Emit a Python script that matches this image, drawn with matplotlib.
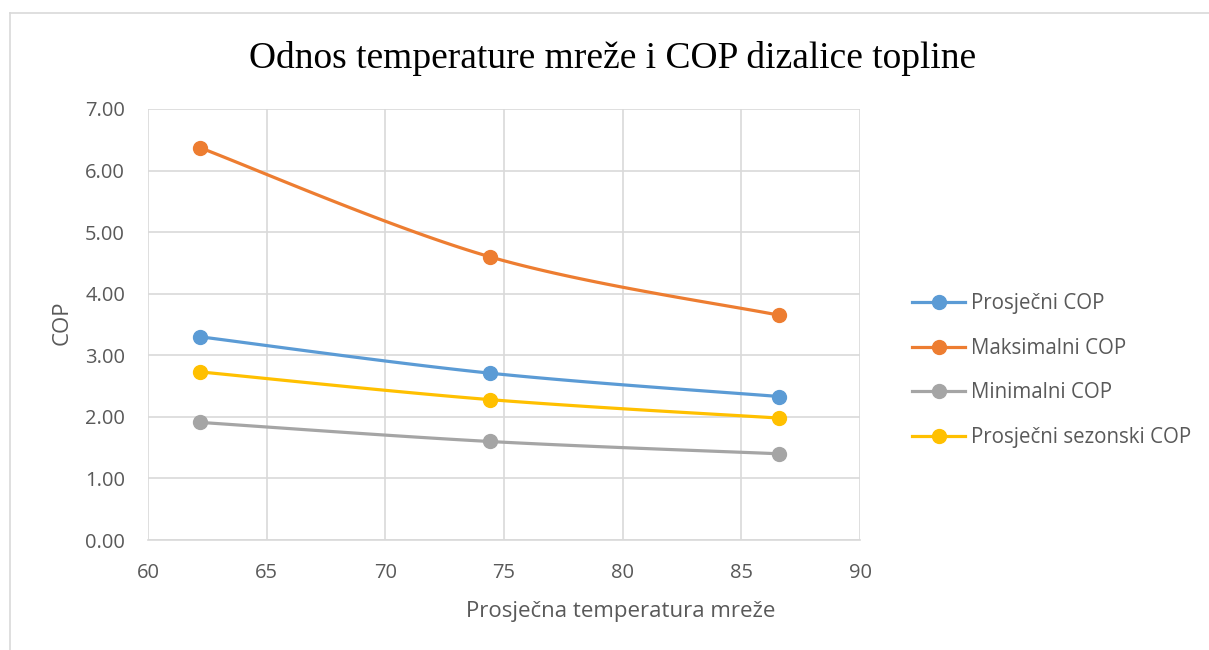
import numpy as np
import matplotlib.pyplot as plt
from matplotlib.lines import Line2D

# data
temps = [62.2, 74.4, 86.6]
cop_avg = [3.30, 2.71, 2.33]
cop_max = [6.37, 4.60, 3.65]
cop_min = [1.91, 1.60, 1.40]
cop_season = [2.73, 2.28, 1.98]

series = [
    ("Prosječni COP", cop_avg, "#5B9BD5"),
    ("Maksimalni COP", cop_max, "#ED7D31"),
    ("Minimalni COP", cop_min, "#A5A5A5"),
    ("Prosječni sezonski COP", cop_season, "#FFC000"),
]


# Excel-like smoothing: cubic bezier with catmull-rom tangents
def smooth(x, y, n=40):
    p = np.column_stack((x, y)).astype(float)
    p = np.vstack((p[0], p, p[-1]))
    out = []
    for i in range(1, len(p) - 2):
        p0, p1, p2, p3 = p[i - 1], p[i], p[i + 1], p[i + 2]
        c1 = p1 + (p2 - p0) / 6
        c2 = p2 - (p3 - p1) / 6
        t = np.linspace(0, 1, n)[:, None]
        seg = (1 - t) ** 3 * p1 + 3 * (1 - t) ** 2 * t * c1 + 3 * (1 - t) * t ** 2 * c2 + t ** 3 * p2
        out.append(seg if i == 1 else seg[1:])
    out = np.vstack(out)
    return out[:, 0], out[:, 1]


plt.rcParams['font.family'] = ['Open Sans', 'DejaVu Sans']
txt = "#595959"
grid = "#D9D9D9"

fig = plt.figure(figsize=(12.09, 6.5), dpi=100)
ax = fig.add_axes([148 / 1209, 1 - 540 / 650, 712 / 1209, 431 / 650])

for name, vals, col in series:
    sx, sy = smooth(temps, vals)
    ax.plot(sx, sy, color=col, lw=2.3, solid_capstyle='round', zorder=3)
    ax.plot(temps, vals, 'o', color=col, ms=10, zorder=4)

ax.set_xlim(60, 90)
ax.set_ylim(0, 7)
ax.set_xticks(np.arange(60, 91, 5))
ax.set_yticks(np.arange(0, 8, 1))
ax.set_yticklabels([f"{v:.2f}" for v in np.arange(0, 8, 1)])
ax.grid(True, color=grid, lw=1.2, zorder=0)
for s in ['top', 'right', 'left']:
    ax.spines[s].set_visible(False)
ax.spines['bottom'].set_color(grid)
ax.spines['bottom'].set_linewidth(1.2)
ax.tick_params(length=0, labelsize=14.5, labelcolor=txt)
ax.tick_params(axis='x', pad=16.5)
ax.tick_params(axis='y', pad=16.5)

fig.text(613 / 1209, 1 - 59 / 650, "Odnos temperature mreže i COP dizalice topline",
         ha='center', va='center', fontsize=27, family='Liberation Serif', color='black')
fig.text(621 / 1209, 1 - 612 / 650, "Prosječna temperatura mreže",
         ha='center', va='center', fontsize=16, color=txt)
fig.text(62 / 1209, 1 - 323 / 650, "COP", ha='center', va='center',
         rotation=90, fontsize=16, color=txt)

handles = [Line2D([], [], color=c, lw=2.3, marker='o', ms=10) for _, _, c in series]
fig.legend(handles, [s[0] for s in series], loc='upper left',
           bbox_to_anchor=(904 / 1209, 1 - 285 / 650), frameon=False,
           fontsize=14.8, labelcolor=txt, handlelength=2.58, handletextpad=0.3,
           labelspacing=1.15, borderaxespad=0)

# chart area border
fig.add_artist(Line2D([10 / 1209, 1], [1 - 13 / 650] * 2, color=grid, lw=1.2))
fig.add_artist(Line2D([10 / 1209] * 2, [0, 1 - 13 / 650], color=grid, lw=1.2))

fig.savefig("out.png", dpi=100)
